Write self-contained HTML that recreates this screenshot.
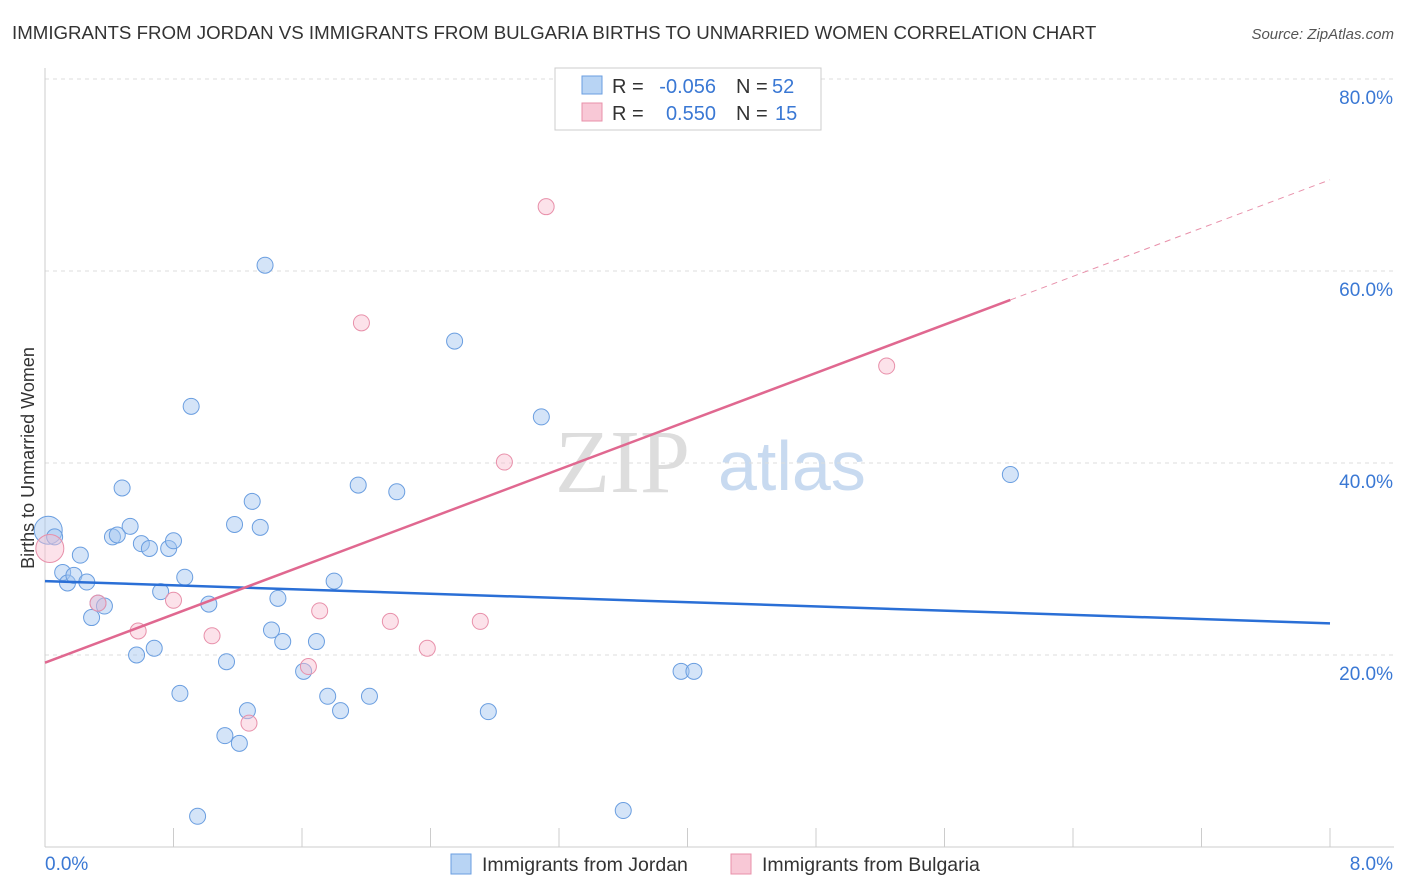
<!DOCTYPE html>
<html><head><meta charset="utf-8"><style>
body{margin:0;background:#fff;font-family:"Liberation Sans",sans-serif;}
svg{display:block}
</style></head><body>
<svg id="c" width="1406" height="892">
<text x="12" y="39" font-size="18.7" fill="#333">IMMIGRANTS FROM JORDAN VS IMMIGRANTS FROM BULGARIA BIRTHS TO UNMARRIED WOMEN CORRELATION CHART</text>
<text x="1394" y="39" font-size="15" fill="#555" font-style="italic" text-anchor="end">Source: ZipAtlas.com</text>
<text transform="translate(34,458) rotate(-90)" font-size="18" fill="#333" text-anchor="middle">Births to Unmarried Women</text>
<text x="555" y="492" font-size="90" fill="#ddd" font-family="Liberation Serif,serif">ZIP</text>
<text x="718" y="490" font-size="70" fill="#c8daf0">atlas</text>
<g id="grid"></g><g id="pts"></g>
<g font-size="20">
<rect x="555" y="68" width="266" height="62" fill="#fff" stroke="#ccc"/>
<rect x="582" y="76" width="20" height="18" fill="#b8d4f4" stroke="#6a9ee0"/>
<rect x="582" y="103" width="20" height="18" fill="#f8c8d6" stroke="#e890aa"/>
<text x="612" y="93" fill="#333">R =</text>
<text x="716" y="93" fill="#3a78d4" text-anchor="end">-0.056</text>
<text x="736" y="93" fill="#333">N =</text>
<text x="772" y="93" fill="#3a78d4">52</text>
<text x="612" y="120" fill="#333">R =</text>
<text x="716" y="120" fill="#3a78d4" text-anchor="end">0.550</text>
<text x="736" y="120" fill="#333">N =</text>
<text x="775" y="120" fill="#3a78d4">15</text>
</g>
<g>
<rect x="451" y="854" width="20" height="20" fill="#b8d4f4" stroke="#6a9ee0"/>
<text x="482" y="871" font-size="19.5" fill="#333">Immigrants from Jordan</text>
<rect x="731" y="854" width="20" height="20" fill="#f8c8d6" stroke="#e890aa"/>
<text x="762" y="871" font-size="19.5" fill="#333">Immigrants from Bulgaria</text>
</g>
</svg>
<script>
const jordanX=[0.02,0.06,0.11,0.14,0.18,0.26,0.22,0.29,0.33,0.37,0.42,0.45,0.48,0.53,0.57,0.60,0.65,0.68,0.72,0.77,0.80,0.84,0.87,0.91,0.95,1.02,1.12,1.13,1.18,1.21,1.26,1.29,1.34,1.37,1.41,1.45,1.48,1.61,1.69,1.80,1.76,1.84,1.95,2.02,2.19,2.55,2.76,3.09,3.60,3.96,4.04,6.01];
const jordanY=[33.0,32.3,28.6,27.5,28.3,27.6,30.4,23.9,25.4,25.1,32.3,32.5,37.4,33.4,20.0,31.6,31.1,20.7,26.6,31.1,31.9,16.0,28.1,45.9,3.2,25.3,11.6,19.3,33.6,10.8,14.2,36.0,33.3,60.6,22.6,25.9,21.4,18.3,21.4,27.7,15.7,14.2,37.7,15.7,37.0,52.7,14.1,44.8,3.8,18.3,18.3,38.8];
const bulgariaX=[0.03,0.33,0.58,0.80,1.04,1.27,1.64,1.71,1.97,2.15,2.38,2.71,2.86,3.12,5.24];
const bulgariaY=[31.1,25.4,22.5,25.7,22.0,12.9,18.8,24.6,54.6,23.5,20.7,23.5,40.1,66.7,50.1];
const yTicks=[20,40,60,80];
const xTickLabels=["0.0%","8.0%"];
const jordanTrend=[27.7,23.3];
const bulgariaTrend=[19.2,69.5];
const sx=v=>45+v/8*1285, sy=v=>847-v*9.6;
const NS="http://www.w3.org/2000/svg";
function mk(t,a,p){const e=document.createElementNS(NS,t);for(const k in a)e.setAttribute(k,a[k]);p.appendChild(e);return e;}
const g=document.getElementById('grid'),P=document.getElementById('pts');
yTicks.forEach(v=>{
 const l=mk('line',{x1:45,x2:1394,y1:sy(v),y2:sy(v),stroke:'#ddd','stroke-dasharray':'4,4'},g);
 
 
 const t=mk('text',{x:1393,y:sy(v)+25,'font-size':19,fill:'#3a78d4','text-anchor':'end'},g);t.textContent=v.toFixed(1)+'%';
 
 
});
const ax=mk('line',{x1:45,x2:45,y1:68,y2:847,stroke:'#ccc'},g);


const bx=mk('line',{x1:45,x2:1394,y1:847,y2:847,stroke:'#ccc'},g);


for(let i=1;i<=10;i++){const x=45+i*128.5;const t=mk('line',{x1:x,x2:x,y1:828,y2:847,stroke:'#ccc'},g);
 
 }
xTickLabels.forEach((s,i)=>{const t=mk('text',{x:i?1393:45,y:870,'font-size':19,fill:'#3a78d4','text-anchor':i?'end':'start'},g);t.textContent=s;
 
 });
jordanX.forEach((x,i)=>{const c=mk('circle',{cx:sx(x),cy:sy(jordanY[i]),r:i==0?14:8,fill:'rgba(160,196,240,0.45)',stroke:'#6a9ee0','stroke-width':1},P);
 
 });
bulgariaX.forEach((x,i)=>{const c=mk('circle',{cx:sx(x),cy:sy(bulgariaY[i]),r:i==0?14:8,fill:'rgba(248,190,208,0.45)',stroke:'#e890aa','stroke-width':1},P);
 
 });
const jl=mk('line',{x1:sx(0),y1:sy(jordanTrend[0]),x2:sx(8),y2:sy(jordanTrend[1]),stroke:'#2a6fd6','stroke-width':2.5},P);


const bs=(bulgariaTrend[1]-bulgariaTrend[0])/8, xe=6.01;
const bl=mk('line',{x1:sx(0),y1:sy(bulgariaTrend[0]),x2:sx(xe),y2:sy(bulgariaTrend[0]+bs*xe),stroke:'#e06890','stroke-width':2.5},P);


const bd=mk('line',{x1:sx(xe),y1:sy(bulgariaTrend[0]+bs*xe),x2:sx(8),y2:sy(bulgariaTrend[1]),stroke:'#e890aa','stroke-width':1,'stroke-dasharray':'6,5'},P);


</script>
</body></html>
